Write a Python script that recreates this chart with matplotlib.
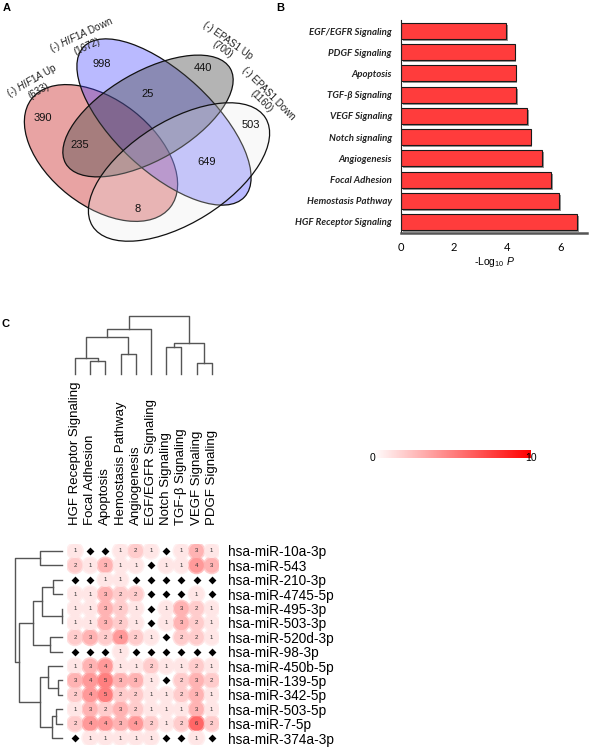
import numpy as np
import matplotlib

matplotlib.use('Agg')
import matplotlib.pyplot as plt
import matplotlib.patheffects as pe
from matplotlib.patches import Ellipse
from matplotlib.colors import LinearSegmentedColormap

plt.rcParams['font.family'] = ['Liberation Sans', 'DejaVu Sans']
plt.rcParams['mathtext.fontset'] = 'custom'
plt.rcParams['mathtext.rm'] = 'Liberation Sans'
plt.rcParams['mathtext.it'] = 'Liberation Sans:italic'

W, H = 590, 750

# ---- Panel A data: 4-set Venn
venn_sets = ['(-) $\\mathit{HIF1A}$ Up', '(-) $\\mathit{HIF1A}$ Down', '(-) EPAS1 Up', '(-) EPAS1 Down']
venn_sizes = [633, 1672, 700, 1160]
venn_counts = [390, 998, 440, 503, 235, 25, 649, 8]

# ---- Panel B data
pathways = ['HGF Receptor Signaling', 'Hemostasis Pathway', 'Focal Adhesion', 'Angiogenesis',
            'Notch signaling', 'VEGF Signaling', 'TGF-β Signaling', 'Apoptosis',
            'PDGF Signaling', 'EGF/EGFR Signaling']
neg_log_p = [6.62, 5.96, 5.65, 5.31, 4.88, 4.75, 4.33, 4.31, 4.28, 3.96]

# ---- Panel C data
heat_cols = ['HGF Receptor Signaling', 'Focal Adhesion', 'Apoptosis', 'Hemostasis Pathway',
             'Angiogenesis', 'EGF/EGFR Signaling', 'Notch Signaling', 'TGF-β Signaling',
             'VEGF Signaling', 'PDGF Signaling']
mirnas = ['hsa-miR-10a-3p', 'hsa-miR-543', 'hsa-miR-210-3p', 'hsa-miR-4745-5p', 'hsa-miR-495-3p',
          'hsa-miR-503-3p', 'hsa-miR-520d-3p', 'hsa-miR-98-3p', 'hsa-miR-450b-5p',
          'hsa-miR-139-5p', 'hsa-miR-342-5p', 'hsa-miR-503-5p', 'hsa-miR-7-5p', 'hsa-miR-374a-3p']
counts = np.array([
    [1, 0, 0, 1, 2, 1, 0, 1, 3, 1],
    [2, 1, 3, 1, 1, 0, 1, 1, 4, 3],
    [0, 0, 1, 1, 0, 0, 0, 0, 0, 0],
    [1, 1, 3, 2, 2, 0, 0, 0, 1, 0],
    [1, 1, 3, 2, 1, 0, 1, 3, 2, 1],
    [1, 1, 3, 2, 1, 0, 1, 3, 2, 1],
    [2, 3, 2, 4, 2, 1, 0, 2, 2, 1],
    [0, 0, 0, 1, 0, 0, 0, 0, 0, 0],
    [1, 3, 4, 1, 1, 2, 1, 1, 2, 1],
    [3, 4, 5, 3, 3, 1, 0, 2, 3, 2],
    [2, 4, 5, 2, 2, 1, 1, 2, 3, 1],
    [1, 3, 2, 3, 2, 1, 1, 1, 3, 1],
    [2, 4, 4, 3, 4, 2, 1, 2, 6, 2],
    [0, 1, 1, 1, 1, 1, 0, 0, 1, 0],
])
# linkage (left, right, height), ids >= n are earlier merges
col_merges = [(1, 2, 13), (0, 10, 16), (3, 4, 20), (11, 12, 37), (13, 5, 45),
              (6, 7, 27), (8, 9, 11), (15, 16, 31), (14, 17, 58)]
row_merges = [(4, 5, 0.5), (2, 3, 9), (15, 14, 20), (6, 7, 12), (16, 17, 29),
              (9, 10, 4), (8, 19, 14), (11, 12, 6), (21, 13, 10), (20, 22, 22),
              (18, 23, 43), (0, 1, 22), (25, 24, 47)]

fig = plt.figure(figsize=(W / 100, H / 100), dpi=100)


def px_axes(x0, y0, x1, y1):
    return fig.add_axes([x0 / W, 1 - y1 / H, (x1 - x0) / W, (y1 - y0) / H])


# ---------------- A: Venn
ax_a = px_axes(0, 0, 300, 260)
ax_a.set_xlim(0, 300)
ax_a.set_ylim(260, 0)
ax_a.axis('off')
# center, semi-axes, angle, face colour, alpha
ellipses = [((101, 153), 88, 53, 38, '#cc3333', 0.45),
            ((164, 122), 110, 49, 43, '#4040ff', 0.36),
            ((148, 116), 95, 44, -30, '#444444', 0.40),
            ((179, 172), 102, 51, -32, '#e8e8e8', 0.25)]
for (cx, cy), a, b, ang, fc, al in ellipses:
    ax_a.add_patch(Ellipse((cx, cy), 2 * a, 2 * b, angle=ang, facecolor=fc, alpha=al, lw=0))
    ax_a.add_patch(Ellipse((cx, cy), 2 * a, 2 * b, angle=ang, facecolor='none',
                           edgecolor='#111111', lw=0.9))
count_pos = [(43, 118), (102, 64), (203, 68), (251, 125), (80, 145), (148, 94), (207, 162), (138, 209)]
for (x, y), v in zip(count_pos, venn_counts):
    ax_a.text(x, y, str(v), ha='center', va='center', fontsize=8, color='#111111')
label_pos = [(35, 85, 30), (84, 40, 25), (225, 45, -35), (265, 97, -45)]
for (x, y, rot), name, n in zip(label_pos, venn_sets, venn_sizes):
    ax_a.text(x, y, f'{name}\n({n})', ha='center', va='center', rotation=rot,
              multialignment='center', fontsize=7, linespacing=1.05, color='#222222')

# ---------------- B: bar chart
ax_b = px_axes(401, 20.4, 587, 232.6)
bars = ax_b.barh(range(len(pathways)), neg_log_p, height=0.75, color='#ff3c3c',
                 edgecolor='#1a1a1a', lw=0.8)
for bar in bars:
    bar.set_path_effects([pe.SimplePatchShadow(offset=(1.2, -1.5), shadow_rgbFace='#8a8a8a', alpha=0.9),
                          pe.Normal()])
ax_b.set_ylim(-0.5, len(pathways) - 0.5)
ax_b.set_xlim(0, 7)
ax_b.set_yticks(range(len(pathways)))
ax_b.set_yticklabels(pathways, fontsize=6.9, fontstyle='italic', fontweight='bold',
                     family=['Lato', 'DejaVu Sans'], color='#222222')
ax_b.set_xticks([0, 2, 4, 6])
ax_b.set_xticklabels(['0', '2', '4', '6'], fontsize=8, family=['Lato', 'DejaVu Sans'])
ax_b.tick_params(axis='y', length=0, pad=6.5)
ax_b.tick_params(axis='x', length=0, pad=7)
ax_b.set_xlabel('-Log$_{10}$ $\\mathit{P}$', fontsize=7.5, labelpad=1)
ax_b.spines['top'].set_visible(False)
ax_b.spines['right'].set_visible(False)
ax_b.spines['left'].set_color('#222222')
ax_b.spines['bottom'].set_color('#555555')
ax_b.spines['bottom'].set_linewidth(1.8)

# ---------------- C: dot heatmap with dendrograms
cmap = LinearSegmentedColormap.from_list('wr', ['#ffffff', '#ff0000'])
n_rows, n_cols = counts.shape


def draw_dendrogram(ax, merges, n, vertical):
    pos = {i: (float(i), 0.0) for i in range(n)}
    for k, (a, b, h) in enumerate(merges):
        xa, ha = pos[a]
        xb, hb = pos[b]
        xs = [xa, xa, xb, xb]
        ys = [ha, h, h, hb]
        if vertical:
            ax.plot(xs, ys, color='#555555', lw=1, clip_on=False)
        else:
            ax.plot(ys, xs, color='#555555', lw=1, clip_on=False)
        pos[n + k] = ((xa + xb) / 2, h)


ax_cd = px_axes(67.4, 316, 219.3, 374)
draw_dendrogram(ax_cd, col_merges, n_cols, True)
ax_cd.set_xlim(-0.5, n_cols - 0.5)
ax_cd.set_ylim(0, 58)
ax_cd.axis('off')

ax_rd = px_axes(15, 543.8, 62, 745.2)
draw_dendrogram(ax_rd, row_merges, n_rows, False)
ax_rd.set_xlim(47, 0)
ax_rd.set_ylim(n_rows - 0.5, -0.5)
ax_rd.axis('off')

ax_c = px_axes(67.4, 543.8, 219.3, 745.2)
R, C = np.indices(counts.shape)
pos_mask = counts > 0
# soft halo + body for each circle
ax_c.scatter(C[pos_mask], R[pos_mask], s=165, c=counts[pos_mask] * 1.15, cmap=cmap, vmin=0, vmax=10,
             edgecolors='none', alpha=0.55)
ax_c.scatter(C[pos_mask], R[pos_mask], s=110, c=counts[pos_mask], cmap=cmap, vmin=0, vmax=10,
             edgecolors='none')
ax_c.scatter(C[~pos_mask], R[~pos_mask], marker='D', s=16, color='black', lw=0)
for r, c in zip(R[pos_mask], C[pos_mask]):
    ax_c.text(c, r, str(counts[r, c]), ha='center', va='center', fontsize=4.3, color='#333333')
ax_c.set_xlim(-0.5, n_cols - 0.5)
ax_c.set_ylim(n_rows - 0.5, -0.5)
ax_c.xaxis.tick_top()
ax_c.set_xticks(range(n_cols))
ax_c.set_xticklabels(heat_cols, rotation=90, fontsize=9.5)
ax_c.yaxis.tick_right()
ax_c.set_yticks(range(n_rows))
ax_c.set_yticklabels(mirnas, fontsize=9.8)
ax_c.tick_params(axis='x', length=0, pad=13.5)
ax_c.tick_params(axis='y', length=0, pad=6.3)
for s in ax_c.spines.values():
    s.set_visible(False)

# colour key
ax_k = px_axes(373, 450, 531, 458)
ax_k.imshow(np.linspace(0, 10, 256)[None, :], cmap=cmap, aspect='auto', extent=(0, 10, 0, 1))
ax_k.axis('off')
ax_k.text(0, 0.0, '0', ha='center', va='center', fontsize=7.5)
ax_k.text(10, 0.0, '10', ha='center', va='center', fontsize=7.5)

# panel letters
fig.text(7 / W, 1 - 8 / H, 'A', fontsize=8, fontweight='bold', ha='center', va='center')
fig.text(280 / W, 1 - 8 / H, 'B', fontsize=8, fontweight='bold', ha='center', va='center')
fig.text(5 / W, 1 - 324 / H, 'C', fontsize=8, fontweight='bold', ha='center', va='center')

fig.savefig('out.png', dpi=100)
